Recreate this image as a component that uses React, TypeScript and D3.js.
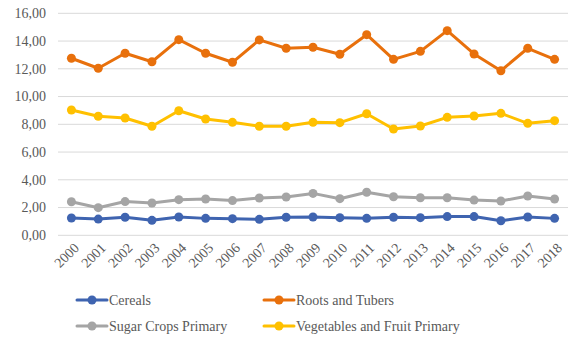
import React from "react";
import * as d3 from "d3";

const years = ["2000","2001","2002","2003","2004","2005","2006","2007","2008","2009","2010","2011","2012","2013","2014","2015","2016","2017","2018"];
const cereals = [1.25,1.17,1.30,1.08,1.32,1.22,1.20,1.15,1.30,1.32,1.27,1.22,1.30,1.27,1.35,1.35,1.05,1.32,1.22];
const roots = [12.76,12.04,13.12,12.51,14.10,13.12,12.47,14.08,13.48,13.55,13.05,14.46,12.68,13.26,14.75,13.07,11.86,13.48,12.68];
const sugar = [2.42,1.99,2.43,2.33,2.57,2.62,2.50,2.69,2.76,3.02,2.64,3.10,2.78,2.71,2.71,2.54,2.47,2.83,2.62];
const veg = [9.03,8.58,8.45,7.86,8.98,8.38,8.14,7.86,7.86,8.14,8.12,8.76,7.66,7.88,8.50,8.60,8.79,8.07,8.26];
const yTicks = [0,2,4,6,8,10,12,14,16];

const seriesNames = ["Cereals","Roots and Tubers","Sugar Crops Primary","Vegetables and Fruit Primary"];
const seriesColors = ["#3F64B0","#E8700C","#A5A5A5","#FFC000"];
const seriesData = [cereals, roots, sugar, veg];

export default function App() {
  const W = 588, H = 345;
  const left = 58, right = 568, top = 13.3, bottom = 235.3;
  const x = d3.scaleBand<string>().domain(years).range([left, right]);
  const y = d3.scaleLinear().domain([0, 16]).range([bottom, top]);
  const line = d3.line<number>().x((_, i) => x(years[i])! + x.bandwidth() / 2).y(d => y(d));
  const textStyle: React.CSSProperties = { fontFamily: "Liberation Serif, DejaVu Serif, serif", fontSize: "14px" };
  const textColor = "#595959";
  const drawOrder = [3, 2, 1, 0];
  const legendPos = [
    { x: 77, y: 300 },
    { x: 264, y: 300 },
    { x: 77, y: 326 },
    { x: 264, y: 326 },
  ];
  return (
    <svg width={W} height={H} style={{ position: "absolute", left: 0, top: 0, background: "#fff" }}>
      {yTicks.map(t => (
        <g key={t}>
          <line x1={left} x2={right} y1={y(t)} y2={y(t)} stroke="#D9D9D9" strokeWidth={1} />
          <text x={46} y={y(t)} dy="0.35em" textAnchor="end" style={textStyle} fill={textColor}>
            {d3.format(".2f")(t).replace(".", ",")}
          </text>
        </g>
      ))}
      {years.map(yr => {
        const cx = x(yr)! + x.bandwidth() / 2;
        return (
          <text key={yr} transform={`translate(${cx + 5},${y(0) + 10}) rotate(-45)`} textAnchor="end" dy="0.35em"
            style={textStyle} fill={textColor}>{yr}</text>
        );
      })}
      {drawOrder.map(si => (
        <g key={si}>
          <path d={line(seriesData[si])!} fill="none" stroke={seriesColors[si]} strokeWidth={3} strokeLinejoin="round" />
          {seriesData[si].map((v, i) => (
            <circle key={i} cx={x(years[i])! + x.bandwidth() / 2} cy={y(v)} r={4.5} fill={seriesColors[si]} />
          ))}
        </g>
      ))}
      {seriesNames.map((n, i) => (
        <g key={n}>
          <line x1={legendPos[i].x} x2={legendPos[i].x + 30} y1={legendPos[i].y} y2={legendPos[i].y}
            stroke={seriesColors[i]} strokeWidth={3} strokeLinecap="round" />
          <circle cx={legendPos[i].x + 15} cy={legendPos[i].y} r={4.5} fill={seriesColors[i]} />
          <text x={legendPos[i].x + 32} y={legendPos[i].y} dy="0.35em" style={textStyle} fill={textColor}>{n}</text>
        </g>
      ))}
    </svg>
  );
}
